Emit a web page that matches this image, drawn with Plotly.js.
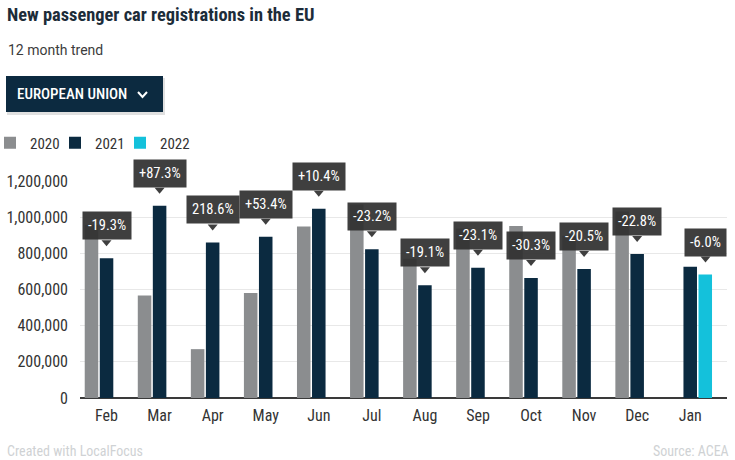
<!DOCTYPE html>
<html><head><meta charset="utf-8">
<script src="https://cdn.plot.ly/plotly-3.0.1.min.js"></script>
<style>html,body{margin:0;padding:0;background:#fff}</style>
</head><body>
<div id="chart" style="width:735px;height:460px"></div>
<script>
// ---- data ----
const months = ['Feb','Mar','Apr','May','Jun','Jul','Aug','Sep','Oct','Nov','Dec','Jan'];
const seriesNames = ['2020','2021','2022'];
const v2020 = [956000, 567000, 270000, 581000, 948000, 1070000, 770000, 937000, 951000, 897000, 1031000, null];
const v2021 = [772000, 1062000, 860000, 891000, 1046000, 822000, 623000, 720000, 663000, 713000, 796000, 726000];
const v2022 = [null, null, null, null, null, null, null, null, null, null, null, 682000];
const changeLabels = ['-19.3%','+87.3%','218.6%','+53.4%','+10.4%','-23.2%','-19.1%','-23.1%','-30.3%','-20.5%','-22.8%','-6.0%'];
const yTicks = [0, 200000, 400000, 600000, 800000, 1000000, 1200000];
const titleText = 'New passenger car registrations in the EU';
const subtitleText = '12 month trend';
const dropdownText = 'EUROPEAN UNION';
const footerLeft = 'Created with LocalFocus';
const footerRight = 'Source: ACEA';

// ---- style ----
const NARROW = '"Roboto Condensed", "Liberation Sans Narrow", "Arial Narrow", Roboto, sans-serif';
const colors = ['#8b8d8f', '#0b2a40', '#14c1db'];
const W = 735, H = 460;
const M = {l: 80, r: 8, t: 180, b: 62, autoexpand: false};
const PW = W - M.l - M.r, PH = H - M.t - M.b;
const bargap = 0.15, bargroupgap = 0.1;
const px2x = px => (px - M.l) / PW;
const py2y = py => (M.t + PH - py) / PH;
const slotPx = PW / months.length * (1 - bargap) / 3;
const legendIds = ['legend', 'legend2', 'legend3'];
const legendLeftPx = [-10, 55, 120];

const traces = [v2020, v2021, v2022].map((vals, k) => ({
  type: 'bar', x: months, y: vals, name: seriesNames[k], legend: legendIds[k],
  marker: {color: colors[k]}, hoverinfo: 'x+y'
}));

const annotations = [];
const shapes = [];
const boxColor = 'rgba(48,48,48,0.93)';
months.forEach((m, i) => {
  const useNext = v2022[i] != null;
  const val = useNext ? v2022[i] : v2021[i];
  const xs = useNext ? slotPx : 0;
  annotations.push({
    x: m, y: val, xref: 'x', yref: 'y', text: changeLabels[i], showarrow: false,
    xanchor: 'center', yanchor: 'bottom', xshift: xs, yshift: 18,
    bgcolor: boxColor, borderpad: 5,
    font: {family: NARROW, size: 14.5, color: '#ffffff'}
  });
  shapes.push({
    type: 'path', xref: 'x', yref: 'y', xsizemode: 'pixel', ysizemode: 'pixel',
    xanchor: i, yanchor: val,
    path: `M ${xs-5} 18 L ${xs+5} 18 L ${xs} 12 Z`,
    fillcolor: boxColor, line: {width: 0}
  });
});

// header: dropdown button
shapes.push({type: 'rect', xref: 'paper', yref: 'paper', x0: px2x(7), x1: px2x(165), y0: py2y(78), y1: py2y(115),
  fillcolor: 'rgba(0,0,0,0.12)', line: {width: 0}, layer: 'above'});
shapes.push({type: 'rect', xref: 'paper', yref: 'paper', x0: px2x(6), x1: px2x(163), y0: py2y(76), y1: py2y(112),
  fillcolor: '#0c2a40', line: {width: 0}, layer: 'above'});
shapes.push({type: 'path', xref: 'paper', yref: 'paper', xsizemode: 'pixel', ysizemode: 'pixel',
  xanchor: px2x(142.5), yanchor: py2y(94.5), path: 'M -4.5 2.5 L 0 -2.5 L 4.5 2.5',
  line: {color: '#ffffff', width: 2}, layer: 'above'});

annotations.push({xref: 'paper', yref: 'paper', x: px2x(15), y: py2y(94), xanchor: 'left', yanchor: 'middle',
  text: dropdownText, showarrow: false, font: {family: NARROW, size: 15, weight: 500, color: '#ffffff'}});
annotations.push({xref: 'paper', yref: 'paper', x: px2x(6), y: py2y(50), xanchor: 'left', yanchor: 'middle',
  text: subtitleText, showarrow: false, font: {family: 'Roboto', size: 14, color: '#3c3c3c'}});
annotations.push({xref: 'paper', yref: 'paper', x: px2x(5), y: py2y(451), xanchor: 'left', yanchor: 'middle',
  text: footerLeft, showarrow: false, font: {family: NARROW, size: 14, color: '#cfd2d4'}});
annotations.push({xref: 'paper', yref: 'paper', x: px2x(731), y: py2y(451), xanchor: 'right', yanchor: 'middle',
  text: footerRight, showarrow: false, font: {family: NARROW, size: 14, color: '#cfd2d4'}});

const legendStyle = k => ({orientation: 'h', x: px2x(legendLeftPx[k]), xanchor: 'left', y: py2y(143), yanchor: 'middle',
  font: {family: NARROW, size: 15, color: '#333333'}, bgcolor: 'rgba(0,0,0,0)'});

const layout = {
  width: W, height: H, margin: M,
  paper_bgcolor: '#ffffff', plot_bgcolor: '#ffffff',
  title: {text: titleText, x: 7 / W, xref: 'container', xanchor: 'left',
          y: 1 - 14.5 / H, yref: 'container', yanchor: 'middle',
          font: {family: NARROW, size: 18.4, weight: 700, color: '#1c2c39'}},
  barmode: 'group', bargap: bargap, bargroupgap: bargroupgap,
  showlegend: true,
  legend: legendStyle(0), legend2: legendStyle(1), legend3: legendStyle(2),
  xaxis: {type: 'category', categoryorder: 'array', categoryarray: months, automargin: false,
          showgrid: false, showline: false, ticks: '', ticklabelstandoff: 6,
          tickfont: {family: NARROW, size: 16, color: '#333333'}, fixedrange: true},
  yaxis: {range: [0, 1205000], tickvals: yTicks, tickformat: ',d', automargin: false,
          showgrid: true, gridcolor: '#e8e8e8', gridwidth: 1,
          zeroline: true, zerolinecolor: '#3a3a3a', zerolinewidth: 1.5,
          ticks: '', ticklabelstandoff: 11,
          tickfont: {family: NARROW, size: 16, color: '#333333'}, fixedrange: true},
  annotations: annotations, shapes: shapes
};

Plotly.newPlot('chart', traces, layout, {displayModeBar: false, staticPlot: true});
</script>
</body></html>
